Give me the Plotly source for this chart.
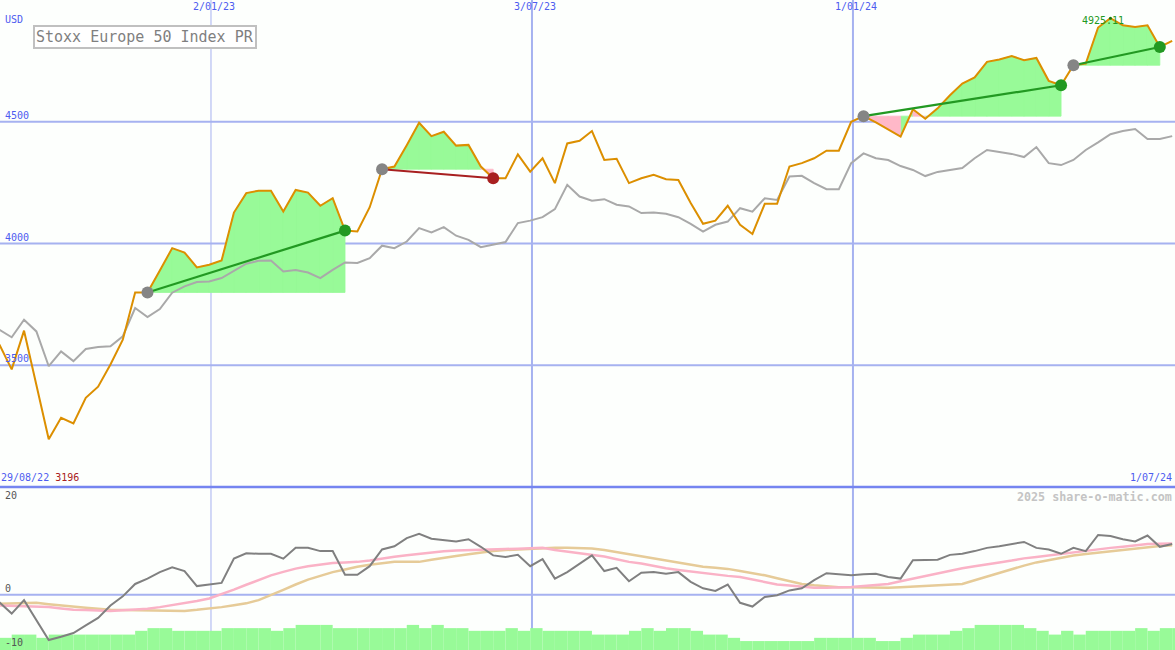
import plotly.graph_objects as go
from datetime import datetime, timedelta

# ---------------- data ----------------
start_date = datetime(2022, 9, 4)
start_label = "29/08/22"
end_label = "1/07/24"
title_text = "Stoxx Europe 50 Index PR"
currency = "USD"
credit = "2025 share-o-matic.com"

price = [3585, 3483, 3642, 3420, 3196, 3284, 3261, 3366, 3412, 3503,
         3605, 3799, 3799, 3889, 3981, 3963, 3902, 3913, 3930, 4127,
         4207, 4217, 4217, 4131, 4220, 4209, 4155, 4186, 4053, 4049,
         4149, 4305, 4316, 4404, 4496, 4441, 4459, 4402, 4405, 4316,
         4268, 4268, 4366, 4295, 4350, 4248, 4411, 4422, 4462, 4343,
         4348, 4248, 4268, 4282, 4264, 4261, 4166, 4081, 4094, 4155,
         4077, 4039, 4163, 4163, 4316, 4330, 4350, 4381, 4381, 4500,
         4523, 4497, 4469, 4439, 4551, 4512, 4555, 4609, 4657, 4682,
         4746, 4756, 4770, 4753, 4762, 4668, 4650, 4732, 4739, 4887,
         4925.11, 4896, 4889, 4896, 4807, 4832]

compare = [3646, 3615, 3687, 3639, 3496, 3557, 3517, 3567, 3575, 3578,
           3619, 3735, 3698, 3731, 3798, 3824, 3842, 3844, 3858, 3889,
           3917, 3929, 3930, 3885, 3891, 3881, 3858, 3892, 3922, 3920,
           3940, 3991, 3981, 4008, 4063, 4045, 4067, 4032, 4015, 3985,
           3995, 4006, 4084, 4094, 4108, 4141, 4241, 4193, 4176, 4182,
           4159, 4152, 4125, 4127, 4122, 4108, 4081, 4049, 4077, 4090,
           4145, 4131, 4186, 4179, 4275, 4278, 4248, 4223, 4223, 4330,
           4370, 4350, 4343, 4318, 4302, 4277, 4294, 4302, 4310, 4350,
           4384, 4376, 4368, 4355, 4396, 4330, 4322, 4343, 4384, 4415,
           4449, 4462, 4470, 4429, 4429, 4441]

momentum = [-1.4, -3.5, -1.0, -4.7, -8.4, -7.8, -7.1, -5.7, -4.3, -2.0,
            -0.3, 2.0, 3.0, 4.2, 5.1, 4.4, 1.6, 1.9, 2.2, 6.7,
            7.7, 7.6, 7.6, 6.7, 8.7, 8.7, 8.1, 8.1, 3.7, 3.7,
            5.3, 8.4, 9.0, 10.5, 11.3, 10.4, 10.2, 9.9, 10.3, 8.9,
            7.3, 7.0, 7.4, 5.3, 6.6, 3.0, 4.2, 5.8, 7.3, 4.4,
            5.0, 2.5, 4.1, 4.2, 3.9, 4.2, 2.4, 1.2, 0.7, 1.9,
            -1.5, -2.2, -0.4, -0.1, 0.8, 1.2, 2.7, 4.0, 3.8, 3.6,
            3.8, 3.9, 3.3, 3.0, 6.4, 6.4, 6.5, 7.4, 7.6, 8.1,
            8.7, 9.0, 9.4, 9.8, 8.7, 8.4, 7.6, 8.7, 8.1, 11.1,
            10.9, 10.3, 9.9, 11.0, 8.9, 9.4]

ma_fast = [-2.0, -2.05, -2.1, -2.2, -2.3, -2.55, -2.8, -2.85, -2.95, -3.0,
           -2.9, -2.8, -2.6, -2.3, -1.95, -1.6, -1.15, -0.7, 0.1, 0.95,
           1.85, 2.7, 3.6, 4.25, 4.85, 5.3, 5.65, 5.9, 6.0, 6.1,
           6.35, 6.75, 7.05, 7.35, 7.6, 7.8, 8.05, 8.2, 8.3, 8.4,
           8.45, 8.5, 8.55, 8.65, 8.7, 8.3, 8.0, 7.8, 7.5, 7.1,
           6.6, 6.1, 5.8, 5.3, 4.9, 4.6, 4.3, 4.0, 3.8, 3.5,
           3.3, 2.8, 2.3, 1.9, 1.7, 1.45, 1.3, 1.3, 1.35, 1.45,
           1.6, 1.8, 2.0, 2.5, 3.0, 3.4, 3.9, 4.4, 4.9, 5.3,
           5.7, 6.0, 6.35, 6.75, 7.0, 7.3, 7.6, 7.9, 8.15, 8.4,
           8.7, 8.9, 9.15, 9.4, 9.45, 9.5]

ma_slow = [-1.7, -1.6, -1.5, -1.5, -1.75, -2.0, -2.2, -2.4, -2.6, -2.8,
           -2.85, -2.9, -2.9, -2.95, -3.0, -3.0, -2.8, -2.6, -2.3, -1.95,
           -1.6, -1.0, -0.1, 0.9, 1.9, 2.8, 3.5, 4.2, 4.7, 5.2,
           5.55, 5.8, 6.1, 6.1, 6.1, 6.5, 6.9, 7.2, 7.5, 7.85,
           8.1, 8.3, 8.4, 8.55, 8.7, 8.7, 8.7, 8.7, 8.6, 8.3,
           7.9, 7.5, 7.1, 6.7, 6.3, 5.9, 5.5, 5.2, 5.0, 4.8,
           4.4, 4.0, 3.6, 3.05, 2.5, 2.0, 1.75, 1.55, 1.4, 1.4,
           1.35, 1.3, 1.3, 1.4, 1.5, 1.6, 1.7, 1.8, 2.0, 2.7,
           3.4, 4.1, 4.7, 5.4, 6.0, 6.4, 6.8, 7.3, 7.55, 7.8,
           8.1, 8.35, 8.6, 8.9, 9.05, 9.2]

bar_level = [-8.0, -7.4, -7.4, -8.0, -7.4, -7.4, -7.4, -7.4, -7.4, -7.4,
             -7.4, -6.7, -6.2, -6.2, -6.7, -6.7, -6.7, -6.7, -6.2, -6.2,
             -6.2, -6.2, -6.7, -6.2, -5.6, -5.6, -5.6, -6.2, -6.2, -6.2,
             -6.2, -6.2, -6.2, -5.6, -6.2, -5.6, -6.2, -6.2, -6.7, -6.7,
             -6.7, -6.2, -6.7, -6.2, -6.7, -6.7, -6.7, -6.7, -7.4, -7.4,
             -7.4, -6.7, -6.2, -6.7, -6.2, -6.2, -6.7, -7.4, -7.4, -8.0,
             -8.6, -8.6, -8.6, -8.6, -8.6, -8.6, -8.0, -8.0, -8.0, -8.0,
             -8.0, -8.6, -8.6, -8.0, -7.4, -7.4, -7.4, -6.7, -6.2, -5.6,
             -5.6, -5.6, -5.6, -6.2, -6.7, -7.4, -6.7, -7.4, -6.7, -6.7,
             -6.7, -6.7, -6.2, -6.7, -6.2, -6.2]

seg_start = [12, 31, 70, 87]
seg_end = [28, 40, 86, 94]

tick_dates = ["2023-01-02", "2023-07-03", "2024-01-01"]
tick_labels = ["2/01/23", "3/07/23", "1/01/24"]
main_grid = [3500, 4000, 4500]
sub_ticks = [20, 0, -10]

# ---------------- layout constants ----------------
W, H = 1175, 650
split = 163 / 650
main_range = [3000, 5000]
sub_range = [-10.26, 20]

ORANGE = "#dc8f00"
GRAYLINE = "#a9a9a9"
GREENFILL = "#98fa98"
PINKFILL = "#ffb8c8"
GREEN = "#229922"
RED = "#a82020"
BLUE_TXT = "#4d5cf0"
GRID = "#a6b2f0"
MONO = "DejaVu Sans Mono"

dates = [start_date + timedelta(days=7 * i) for i in range(len(price))]

fig = go.Figure()

# segment fills (per interval, coloured by the end value vs the start level)
for s0, s1 in zip(seg_start, seg_end):
    base = price[s0]
    gx, gy, px_, py = [], [], [], []
    for i in range(s0, s1):
        xs = [dates[i], dates[i], dates[i + 1], dates[i + 1], dates[i], None]
        ys = [base, price[i], price[i + 1], base, base, None]
        if price[i + 1] >= base:
            gx += xs; gy += ys
        else:
            px_ += xs; py += ys
    if gx:
        fig.add_trace(go.Scatter(x=gx, y=gy, fill="toself", fillcolor=GREENFILL,
                                 mode="lines", line=dict(width=0.8, color=GREENFILL),
                                 hoverinfo="skip", xaxis="x", yaxis="y"))
    if px_:
        fig.add_trace(go.Scatter(x=px_, y=py, fill="toself", fillcolor=PINKFILL,
                                 mode="lines", line=dict(width=0.8, color=PINKFILL),
                                 hoverinfo="skip", xaxis="x", yaxis="y"))

# comparison line and price line
fig.add_trace(go.Scatter(x=dates, y=compare, mode="lines",
                         line=dict(color=GRAYLINE, width=2), hoverinfo="skip"))
fig.add_trace(go.Scatter(x=dates, y=price, mode="lines",
                         line=dict(color=ORANGE, width=2), hoverinfo="skip"))

# trend lines and dots
for s0, s1 in zip(seg_start, seg_end):
    col = GREEN if price[s1] >= price[s0] else RED
    fig.add_trace(go.Scatter(x=[dates[s0], dates[s1]], y=[price[s0], price[s1]],
                             mode="lines", line=dict(color=col, width=2.2),
                             hoverinfo="skip"))
    fig.add_trace(go.Scatter(x=[dates[s0]], y=[price[s0]], mode="markers",
                             marker=dict(color="#858585", size=12, line=dict(width=0)),
                             hoverinfo="skip"))
    fig.add_trace(go.Scatter(x=[dates[s1]], y=[price[s1]], mode="markers",
                             marker=dict(color=col, size=12, line=dict(width=0)),
                             hoverinfo="skip"))

imax = max(range(len(price)), key=lambda k: price[k])
imin = min(range(len(price)), key=lambda k: price[k])
fig.add_trace(go.Scatter(x=[dates[imax]], y=[price[imax]], mode="markers",
                         marker=dict(color="#117711", size=3), hoverinfo="skip"))

# lower panel: bars, moving averages, momentum
fig.add_trace(go.Bar(x=[d + timedelta(days=3.5) for d in dates],
                     y=[v - sub_range[0] for v in bar_level], base=sub_range[0],
                     width=7 * 86400000, marker=dict(color=GREENFILL, line=dict(width=0)),
                     hoverinfo="skip", xaxis="x2", yaxis="y2"))
fig.add_trace(go.Scatter(x=dates, y=ma_slow, mode="lines",
                         line=dict(color="#e6cb98", width=2.5), hoverinfo="skip",
                         xaxis="x2", yaxis="y2"))
fig.add_trace(go.Scatter(x=dates, y=ma_fast, mode="lines",
                         line=dict(color="#fab2c6", width=2.5), hoverinfo="skip",
                         xaxis="x2", yaxis="y2"))
fig.add_trace(go.Scatter(x=dates, y=momentum, mode="lines",
                         line=dict(color="#808080", width=2), hoverinfo="skip",
                         xaxis="x2", yaxis="y2"))

# ---------------- grid shapes ----------------
shapes = []
for k, d in enumerate(tick_dates):
    shapes.append(dict(type="line", xref="x", yref="paper", x0=d, x1=d, y0=0, y1=1,
                       line=dict(color=GRID, width=1 if k == 0 else 2), layer="below"))
for v in main_grid:
    shapes.append(dict(type="line", xref="paper", yref="y", x0=0, x1=1, y0=v, y1=v,
                       line=dict(color=GRID, width=2), layer="below"))
shapes.append(dict(type="line", xref="paper", yref="y2", x0=0, x1=1, y0=0, y1=0,
                   line=dict(color=GRID, width=2), layer="below"))
shapes.append(dict(type="line", xref="paper", yref="paper", x0=0, x1=1, y0=split, y1=split,
                   line=dict(color="#7585f0", width=2.5), layer="above"))

# ---------------- annotations ----------------
ann = []
small = dict(family=MONO, size=10, color=BLUE_TXT)
for d, lab in zip(tick_dates, tick_labels):
    ann.append(dict(x=d, y=1, xref="x", yref="paper", text=lab, showarrow=False,
                    xanchor="center", yanchor="top", xshift=3, yshift=1, font=small))
for v in main_grid:
    ann.append(dict(x=0, y=v, xref="paper", yref="y", text=str(v), showarrow=False,
                    xanchor="left", yanchor="bottom", xshift=3, yshift=-1, font=small))
ann.append(dict(x=0, y=1, xref="paper", yref="paper", text=currency, showarrow=False,
                xanchor="left", yanchor="top", xshift=3, yshift=-12, font=small))
for v in sub_ticks:
    ann.append(dict(x=0, y=v, xref="paper", yref="y2", text=str(v), showarrow=False,
                    xanchor="left", yanchor="top" if v == sub_ticks[0] else "bottom",
                    xshift=3, yshift=-1 if v == sub_ticks[0] else -1,
                    font=dict(family=MONO, size=10, color="#555555")))
ann.append(dict(x=0, y=split, xref="paper", yref="paper",
                text=start_label + ' <span style="color:#a82020">' + str(int(round(price[imin]))) + "</span>",
                showarrow=False, xanchor="left", yanchor="bottom", xshift=-1, yshift=2, font=small))
ann.append(dict(x=1, y=split, xref="paper", yref="paper", text=end_label, showarrow=False,
                xanchor="right", yanchor="bottom", xshift=-1, yshift=2, font=small))
ann.append(dict(x=1, y=split, xref="paper", yref="paper", text=credit, showarrow=False,
                xanchor="right", yanchor="top", xshift=-1, yshift=-1,
                font=dict(family=MONO, size=11.7, color="#c4c4c4", weight="bold")))
ann.append(dict(x=dates[imax], y=price[imax], xref="x", yref="y",
                text=f"{price[imax]:.2f}", showarrow=False, xanchor="center",
                yanchor="middle", xshift=-7, yshift=-2,
                font=dict(family=MONO, size=10, color=GREEN)))
ann.append(dict(x=33 / W, y=1 - 25 / H, xref="paper", yref="paper", text=title_text,
                showarrow=False, xanchor="left", yanchor="top",
                font=dict(family=MONO, size=15, color="#7f7f7f"),
                bordercolor="#c0c0c0", borderwidth=2, borderpad=1, bgcolor="#ffffff"))

xr = [start_date + timedelta(days=0.37), start_date + timedelta(days=666.6)]
fig.update_layout(
    width=W, height=H, margin=dict(l=0, r=0, t=0, b=0),
    paper_bgcolor="#fdfffd", plot_bgcolor="#fdfffd",
    showlegend=False, hovermode=False, barmode="overlay",
    xaxis=dict(type="date", range=xr, visible=False, anchor="y"),
    xaxis2=dict(type="date", range=xr, visible=False, anchor="y2", matches="x"),
    yaxis=dict(domain=[split, 1], range=main_range, visible=False, fixedrange=True),
    yaxis2=dict(domain=[0, split], range=sub_range, visible=False, fixedrange=True),
    shapes=shapes, annotations=ann,
)

fig.write_html("out.html", config={"displayModeBar": False},
               post_script="document.body.style.margin='0';document.body.style.overflow='hidden';")
